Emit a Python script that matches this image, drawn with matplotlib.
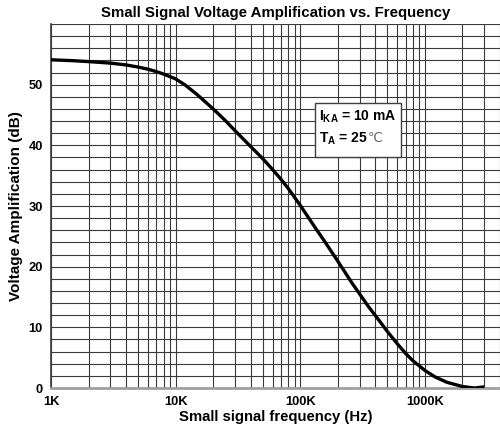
import matplotlib
matplotlib.use("Agg")
import matplotlib.pyplot as plt
from matplotlib.patches import Rectangle

plt.rcParams["font.family"] = ["Liberation Sans", "DejaVu Sans"]
plt.rcParams["font.weight"] = "bold"
plt.rcParams["mathtext.fontset"] = "custom"
plt.rcParams["mathtext.rm"] = "Liberation Sans:bold"
plt.rcParams["mathtext.bf"] = "Liberation Sans:bold"
plt.rcParams["mathtext.it"] = "Liberation Sans:bold"

# ── curve ───────────────────────────────────────────────────────────────────
freq_hz = [1e3, 1.5e3, 2e3, 3e3, 4e3, 5e3, 6e3, 7e3, 8e3, 1e4, 1.2e4, 1.5e4,
           2e4, 2.5e4, 3e4, 4e4, 5e4, 6e4, 7e4, 8e4, 1e5, 1.3e5, 1.6e5, 2e5,
           2.6e5, 3.5e5, 4.3e5, 5e5, 6e5, 7e5, 8e5, 1e6, 1.2e6, 1.5e6, 2e6,
           2.5e6, 3e6]
gain_db = [54.1, 53.95, 53.8, 53.55, 53.25, 52.9, 52.55, 52.15, 51.75, 50.95,
           49.9, 48.3, 46.0, 44.1, 42.4, 39.8, 37.8, 36.0, 34.4, 32.9, 30.1,
           26.6, 23.9, 20.9, 17.3, 13.5, 11.1, 9.3, 7.3, 5.7, 4.5, 2.9, 1.85,
           0.95, 0.25, 0.0, 0.2]

x_ticks = [1e3, 1e4, 1e5, 1e6]
x_labels = ["1K", "10K", "100K", "1000K"]
y_ticks = [0, 10, 20, 30, 40, 50]
y_grid = list(range(0, 61, 2))
x_grid = [m * 10 ** e for e in range(3, 7) for m in range(1, 10)]

fig = plt.figure(figsize=(5.0, 4.36), dpi=100)
ax = fig.add_axes([0.102, 0.110, 0.898, 0.835])

ax.set_xscale("log")
ax.set_xlim(1e3, 4e6)
ax.set_ylim(0, 60)

for xv in x_grid:
    ax.axvline(xv, color="#3a3a3a", linewidth=0.8, zorder=1)
for yv in y_grid:
    ax.axhline(yv, color="#3a3a3a", linewidth=0.8, zorder=1)

ax.plot(freq_hz, gain_db, color="black", linewidth=2.4, zorder=3,
        solid_capstyle="butt", solid_joinstyle="round")

ax.set_xticks(x_ticks)
ax.set_xticklabels(x_labels)
ax.minorticks_off()
ax.set_yticks(y_ticks)
ax.tick_params(length=0, labelsize=9.3, pad=6)
for lab in ax.get_xticklabels() + ax.get_yticklabels():
    lab.set_fontweight("bold")

for side in ("top", "right"):
    ax.spines[side].set_visible(False)
ax.spines["left"].set_color("#3a3a3a")
ax.spines["left"].set_linewidth(1.2)
ax.spines["bottom"].set_color("#a0a0a0")
ax.spines["bottom"].set_linewidth(2.0)

ax.set_title("Small Signal Voltage Amplification vs. Frequency",
             fontsize=10.8, fontweight="bold", pad=5)
ax.set_xlabel("Small signal frequency (Hz)", fontsize=10.7, fontweight="bold",
              labelpad=1)
ax.set_ylabel("Voltage Amplification (dB)", fontsize=11, fontweight="bold",
              labelpad=4)

# condition box
ax.add_patch(Rectangle((1.32e5, 38.1), 6.4e5 - 1.32e5, 46.9 - 38.1,
                       facecolor="white", edgecolor="#404040",
                       linewidth=1.0, zorder=4))
ax.text(1.40e5, 44.1, r"$\mathregular{I_{KA}}$ = 10 mA", fontsize=10,
        fontweight="bold", va="baseline", ha="left", zorder=5)
ax.text(1.40e5, 40.5, r"$\mathregular{T_{A}}$ = 25", fontsize=10,
        fontweight="bold", va="baseline", ha="left", zorder=5)
ax.text(3.5e5, 40.5, "\u2103", fontsize=9.5, fontweight="normal",
        family=["DejaVu Sans"], color="#666666", va="baseline", ha="left",
        zorder=5)

fig.savefig("out.png", dpi=100)
